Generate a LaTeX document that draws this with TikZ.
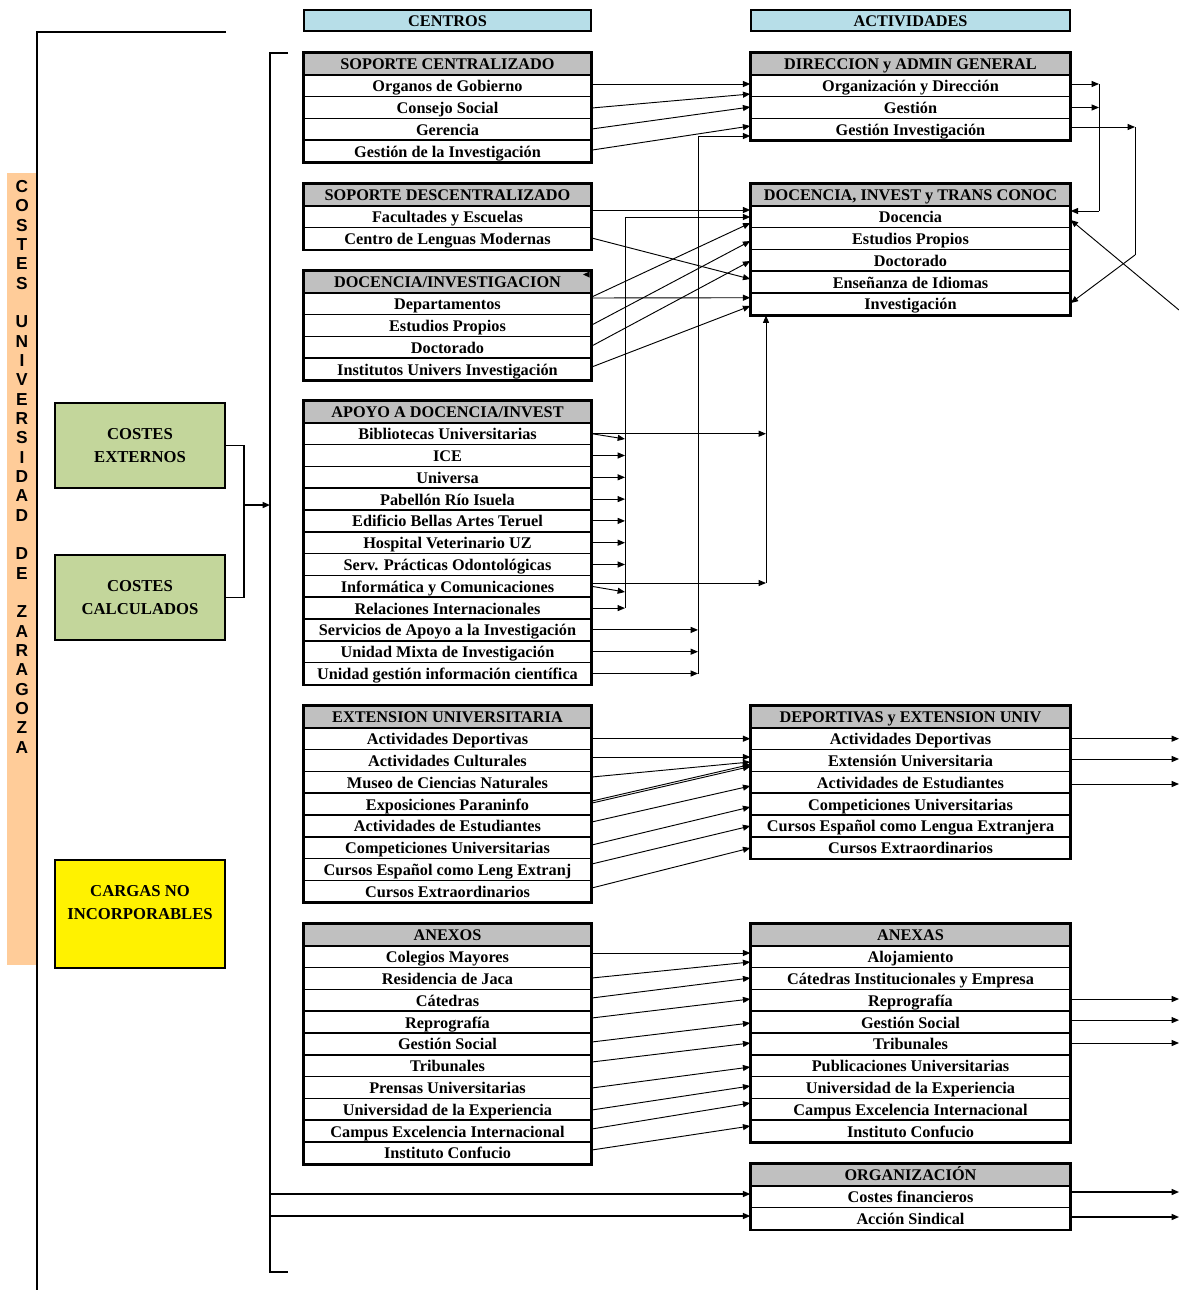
\documentclass[tikz,border=0pt]{standalone}
\usepackage{fontspec}
\setmainfont{Liberation Serif}
\newfontfamily\arialf{Liberation Sans}
\usetikzlibrary{arrows.meta,calc}
\definecolor{hgray}{HTML}{C0C0C0}
\definecolor{lblue}{HTML}{B7DEE8}
\definecolor{lgreen}{HTML}{C3D69B}
\definecolor{peach}{HTML}{FFCC99}
\tikzset{
  boxfont/.style={font=\bfseries\fontsize{12.2}{13}\selectfont},
  hdr/.style={draw, line width=1.1pt, fill=hgray, minimum height=16.35pt, inner sep=0pt, boxfont, text height=9.5pt, text depth=0.5pt},
  rowst/.style={draw, line width=1.1pt, fill=white, minimum height=16.35pt, inner sep=0pt, boxfont, text height=9.5pt, text depth=0.5pt},
  outerbox/.style={draw, line width=1.6pt},
  topbox/.style={draw, line width=1.4pt, fill=lblue, minimum height=15.75pt, inner sep=0pt, boxfont, text height=9.5pt, text depth=0.5pt},
  sidebox/.style={draw, line width=1.6pt, minimum width=127.5pt, minimum height=64pt, align=center, inner sep=0pt, font=\bfseries\fontsize{12.5}{17}\selectfont},
  arr/.style={-{Triangle[length=5.5pt,width=4.5pt]}, line width=0.7pt},
  plain/.style={line width=0.7pt},
}
\newcommand\mkbox[7]{%
  \node[hdr, minimum width=#4] (#1h) at (#2, #3+10.9) {#5};
  \foreach \lab [count=\i] in {#6} {\node[rowst, minimum width=#4] (#1\i) at (#2, #3+10.9+\i*21.8) {\lab};}
  \draw[outerbox] (#1h.north west) rectangle (#1#7.south east);
}
\newcommand\conn[4]{\draw[arr] ($(#1.east)+(0,#2)$) -- ($(#3.west)+(0,#4)$);}
\begin{document}
\begin{tikzpicture}[x=0.75pt,y=-0.75pt]
\useasboundingbox (0,0) rectangle (1179,1290);

% left vertical band
\fill[peach] (7,173) rectangle (37,965);
\node[font=\arialf\bfseries\fontsize{13}{14.5}\selectfont, align=center, inner sep=0pt, anchor=north] (vt) at (22,180)
 {C\\O\\S\\T\\E\\S\\[14.5pt]U\\N\\I\\V\\E\\R\\S\\I\\D\\A\\D\\[14.5pt]D\\E\\[14.5pt]Z\\A\\R\\A\\G\\O\\Z\\A};
\draw[line width=1.5pt] (226,32) -- (37,32) -- (37,1290);

% bracket
\draw[line width=1.5pt] (288,53) -- (270,53) -- (270,1272) -- (288,1272);
\coordinate (bx) at (270,0);
\coordinate (rx) at (1179,0);

% side boxes
\node[sidebox, fill=lgreen] (ce) at (140,445.5) {COSTES\\EXTERNOS};
\node[sidebox, fill=lgreen] (cc) at (140,597.5) {COSTES\\CALCULADOS};
\node[sidebox, fill=yellow, minimum height=81pt] (cn) at (140,914) {CARGAS NO\\INCORPORABLES\\ \mbox{}};
\coordinate (j1) at (244,505);
\draw[line width=1.2pt] (ce.east) -| (j1) |- (cc.east);
\draw[arr, line width=1pt] (j1) -- (j1 -| bx);

% top headers
\node[topbox, minimum width=215.25pt] (cent) at (447.5,20.5) {CENTROS};
\node[topbox, minimum width=239.25pt] (acti) at (910.5,20.5) {ACTIVIDADES};

% centros
\mkbox{sc}{447.5}{53}{215.25pt}{SOPORTE CENTRALIZADO}{Organos de Gobierno,Consejo Social,Gerencia,Gestión de la Investigación}{4}
\mkbox{sd}{447.5}{184}{215.25pt}{SOPORTE DESCENTRALIZADO}{Facultades y Escuelas,Centro de Lenguas Modernas}{2}
\mkbox{di}{447.5}{271}{215.25pt}{DOCENCIA/INVESTIGACION}{Departamentos,Estudios Propios,Doctorado,Institutos Univers Investigación}{4}
\mkbox{ap}{447.5}{401}{215.25pt}{APOYO A DOCENCIA/INVEST}{Bibliotecas Universitarias,ICE,Universa,Pabellón Río Isuela,Edificio Bellas Artes Teruel,Hospital Veterinario UZ,Serv. Prácticas Odontológicas,Informática y Comunicaciones,Relaciones Internacionales,Servicios de Apoyo a la Investigación,Unidad Mixta de Investigación,Unidad gestión información científica}{12}
\mkbox{ex}{447.5}{706}{215.25pt}{EXTENSION UNIVERSITARIA}{Actividades Deportivas,Actividades Culturales,Museo de Ciencias Naturales,Exposiciones Paraninfo,Actividades de Estudiantes,Competiciones Universitarias,Cursos Español como Leng Extranj,Cursos Extraordinarios}{8}
\mkbox{an}{447.5}{924}{215.25pt}{ANEXOS}{Colegios Mayores,Residencia de Jaca,Cátedras,Reprografía,Gestión Social,Tribunales,Prensas Universitarias,Universidad de la Experiencia,Campus Excelencia Internacional,Instituto Confucio}{10}

% actividades
\mkbox{da}{910.5}{53}{239.25pt}{DIRECCION y ADMIN GENERAL}{Organización y Dirección,Gestión,Gestión Investigación}{3}
\mkbox{dt}{910.5}{184}{239.25pt}{DOCENCIA, INVEST y TRANS CONOC}{Docencia,Estudios Propios,Doctorado,Enseñanza de Idiomas,Investigación}{5}
\mkbox{de}{910.5}{706}{239.25pt}{DEPORTIVAS y EXTENSION UNIV}{Actividades Deportivas,Extensión Universitaria,Actividades de Estudiantes,Competiciones Universitarias,Cursos Español como Lengua Extranjera,Cursos Extraordinarios}{6}
\mkbox{ax}{910.5}{924}{239.25pt}{ANEXAS}{Alojamiento,Cátedras Institucionales y Empresa,Reprografía,Gestión Social,Tribunales,Publicaciones Universitarias,Universidad de la Experiencia,Campus Excelencia Internacional,Instituto Confucio}{9}
\mkbox{or}{910.5}{1164}{239.25pt}{ORGANIZACIÓN}{Costes financieros,Acción Sindical}{2}

% small stray arrowhead
\fill (583,274.5) -- (589.5,271.5) -- (589.5,277.5) -- cycle;

% soporte centralizado -> direccion
\conn{sc1}{-1.7}{da1}{-1.7}
\conn{sc2}{0.5}{da1}{8.3}
\conn{sc3}{-0.3}{da2}{-0.5}
\conn{sc4}{-1}{da3}{-3.3}
% soporte descentralizado / docencia -> docencia invest
\conn{sd1}{-6.7}{dt1}{-6.7}
\conn{sd2}{-0.5}{dt4}{-3.1}
\conn{di1}{-6.7}{dt1}{6.3}
\conn{di1}{-5.7}{dt5}{-6.2}
\conn{di2}{-0.5}{dt2}{2.5}
\conn{di3}{-1.3}{dt3}{0.7}
\conn{di4}{-2.1}{dt5}{2.1}

% collector 698 -> gestion investigacion
\coordinate (k1) at (698,136);
\draw[plain] (ap12.east -| k1) -- (k1);
\draw[arr] (k1) -- (k1 -| da3.west);
\foreach \r in {10,11,12} {\draw[arr] (ap\r.east) -- (ap\r.east -| k1);}

% collector 625 -> docencia
\coordinate (k2) at (625,217);
\draw[plain] (ap9.east -| k2) -- (k2);
\draw[arr] (k2) -- (k2 -| dt1.west);
\foreach \r in {2,3,4,5,6,7,9} {\draw[arr] (ap\r.east) -- (ap\r.east -| k2);}
\draw[arr] (ap1.east) -- ($(ap1.east -| k2)+(0,5.3)$);
\draw[arr] (ap8.east) -- ($(ap8.east -| k2)+(0,5.7)$);

% collector 766 -> bottom of docencia invest
\coordinate (k3) at (766,583);
\draw[arr] (ap1.east) -- (ap1.east -| k3);
\draw[arr] ($(ap8.east)+(0,-3.3)$) -- (k3);
\draw[arr] (k3) -- (k3 |- dt5.south);

% right side loops
\coordinate (k4) at (1099,211);
\draw[arr] ($(da1.east)+(0,-1.7)$) -- ($(da1.east -| k4)+(0,-1.7)$);
\draw[arr] (da2.east) -- (da2.east -| k4);
\draw[plain] ($(da1.east -| k4)+(0,-1.7)$) -- (k4);
\draw[arr] (k4) -- (k4 -| dt1.east);
\coordinate (k5) at (1135,127);
\coordinate (k6) at (1135,255);
\draw[arr] ($(da3.east)+(0,-2.3)$) -- (k5);
\draw[plain] (k5) -- (k6);
\draw[arr] (k6) -- ($(dt5.east)+(0,-0.9)$);
\coordinate (k7) at (1179,310);
\draw[arr] (k7) -- ($(dt1.east)+(0,3.3)$);

% extension
\conn{ex1}{0}{de1}{0}
\conn{ex2}{-3.5}{de2}{-3.5}
\conn{ex3}{-5.3}{de2}{1.5}
\conn{ex4}{-3}{de2}{4}
\conn{ex4}{-1}{de2}{6}
\conn{ex5}{-3.9}{de3}{3.7}
\conn{ex6}{-2.7}{de4}{2.9}
\conn{ex7}{-5.5}{de5}{0.1}
\conn{ex8}{-3.3}{de6}{0.3}
\draw[arr] (de1.east) -- (de1.east -| rx);
\draw[arr] ($(de2.east)+(0,-1.5)$) -- ($(de2.east -| rx)+(0,-1.5)$);
\draw[arr] ($(de3.east)+(0,1.7)$) -- ($(de3.east -| rx)+(0,1.7)$);

% anexos
\conn{an1}{-3.7}{ax1}{-3.7}
\conn{an2}{-0.5}{ax1}{5.3}
\conn{an3}{-2.3}{ax2}{-0.5}
\conn{an4}{-4.1}{ax3}{-1.3}
\conn{an5}{-1.9}{ax4}{0.9}
\conn{an6}{-3.7}{ax5}{-0.9}
\conn{an7}{0.5}{ax6}{1.3}
\conn{an8}{0.7}{ax7}{-1.5}
\conn{an9}{-2.1}{ax8}{-6.3}
\conn{an10}{-2.9}{ax9}{-5.1}
\draw[arr] ($(ax3.east)+(0,-1.3)$) -- ($(ax3.east -| rx)+(0,-1.3)$);
\draw[arr] ($(ax4.east)+(0,-2)$) -- ($(ax4.east -| rx)+(0,-2)$);
\draw[arr] ($(ax5.east)+(0,-0.9)$) -- ($(ax5.east -| rx)+(0,-0.9)$);

% organizacion
\draw[arr, line width=0.9pt] ($(or1.west -| bx)+(0,-2.7)$) -- ($(or1.west)+(0,-2.7)$);
\draw[arr, line width=0.9pt] ($(or2.west -| bx)+(0,-2.5)$) -- ($(or2.west)+(0,-2.5)$);
\draw[arr, line width=0.9pt] ($(or1.east)+(0,-4.7)$) -- ($(or1.east -| rx)+(0,-4.7)$);
\draw[arr, line width=0.9pt] ($(or2.east)+(0,-1.5)$) -- ($(or2.east -| rx)+(0,-1.5)$);
\end{tikzpicture}
\end{document}
